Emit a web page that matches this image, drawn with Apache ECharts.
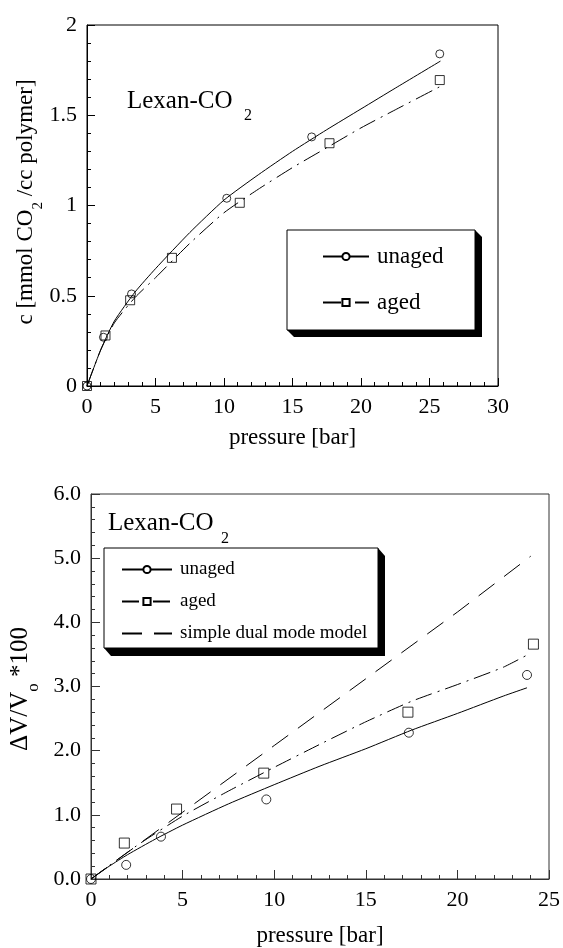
<!DOCTYPE html>
<html>
<head>
<meta charset="utf-8">
<script src="https://cdn.jsdelivr.net/npm/echarts@6/dist/echarts.min.js"></script>
<style>
  html, body { margin: 0; padding: 0; background: #fff; }
  #chart { width: 563px; height: 948px; }
</style>
</head>
<body>
<div id="chart"></div>
<script>
// top panel: sorption, c [mmol CO2/cc polymer] vs pressure [bar]
const topUnagedP = [0, 1.2, 3.25, 10.2, 16.4, 25.75];
const topUnagedC = [0, 0.27, 0.51, 1.04, 1.38, 1.84];
const topAgedP = [0, 1.35, 3.15, 6.2, 11.15, 17.7, 25.75];
const topAgedC = [0, 0.28, 0.475, 0.71, 1.015, 1.345, 1.695];
const topFitP = [0, 1, 2, 3.5, 5, 7.5, 10, 12.5, 15, 17.5, 20, 22.5, 25.8];
const topUnagedFit = [0, 0.2, 0.36, 0.52, 0.65, 0.85, 1.03, 1.17, 1.3, 1.42, 1.535, 1.65, 1.8];
const topAgedFit = [0, 0.2, 0.35, 0.49, 0.6, 0.79, 0.96, 1.09, 1.21, 1.32, 1.43, 1.53, 1.66];

// bottom panel: dilation, dV/Vo*100 vs pressure [bar]
const botUnagedP = [0, 1.92, 3.82, 9.57, 17.35, 23.8];
const botUnagedV = [0, 0.22, 0.66, 1.24, 2.28, 3.18];
const botAgedP = [0, 1.82, 4.67, 9.43, 17.3, 24.15];
const botAgedV = [0, 0.56, 1.09, 1.65, 2.6, 3.66];
const botUnagedFitP = [0, 1, 2, 3.5, 5, 7.5, 10, 12.5, 15, 17.5, 20, 22.5, 23.8];
const botUnagedFit = [0, 0.2, 0.38, 0.62, 0.84, 1.17, 1.47, 1.76, 2.03, 2.32, 2.58, 2.85, 2.98];
const botAgedFitP = [0, 2.5, 5, 7.5, 10, 12.5, 15, 17.5, 20, 22.5, 24];
const botAgedFit = [0, 0.52, 0.98, 1.37, 1.74, 2.1, 2.45, 2.77, 3.03, 3.3, 3.52];
const botModelP = [0, 5, 10, 15, 20, 24];
const botModel = [0, 1.04, 2.08, 3.12, 4.16, 5.03];

const font = "'Liberation Serif', 'Times New Roman', serif";
const pairs = (xs, ys) => xs.map((x, i) => [x, ys[i]]);

// one x and one y axis per grid; the grid border draws the top/right frame
function axis(grid, max, interval, pos, opts) {
  const c = opts.color;
  return {
    type: 'value', gridIndex: grid, min: 0, max: max, interval: interval, position: pos,
    axisLine: { show: true, onZero: false, lineStyle: { color: c, width: 1 } },
    axisTick: { show: true, inside: true, length: opts.len || 8, lineStyle: { color: c, width: 1 } },
    minorTick: { show: true, splitNumber: 5, length: 4, lineStyle: { color: c, width: 1 } },
    splitLine: { show: false },
    axisLabel: { show: true, fontFamily: font, fontSize: 22, color: '#000', margin: 10, formatter: opts.fmt }
  };
}

function legendBox(x, y, w, h, dx, dy) {
  return [
    { type: 'polygon', z: 3, silent: true,
      shape: { points: [[x + w, y], [x + w + dx, y + dy], [x + w + dx, y + h + dy], [x + dx, y + h + dy], [x, y + h]] },
      style: { fill: '#000' } },
    { type: 'rect', z: 3, silent: true, shape: { x: x, y: y, width: w, height: h },
      style: { fill: '#fff', stroke: '#000', lineWidth: 1 } }
  ];
}

const nameStyle = { fontFamily: font, fontSize: 23, color: '#000' };
const myChart = echarts.init(document.getElementById('chart'));

const option = {
  animation: false,
  backgroundColor: '#fff',
  grid: [
    { left: 87, top: 25, width: 411, height: 361, show: true, borderColor: '#000', borderWidth: 1, backgroundColor: 'transparent' },
    { left: 91, top: 494, width: 458, height: 386, show: true, borderColor: '#333', borderWidth: 1, backgroundColor: 'transparent' }
  ],
  xAxis: [
    Object.assign(axis(0, 30, 5, 'bottom', { color: '#000' }),
      { name: 'pressure [bar]', nameLocation: 'middle', nameGap: 40, nameTextStyle: nameStyle }),
    Object.assign(axis(1, 25, 5, 'bottom', { color: '#333', len: 9 }),
      { name: 'pressure [bar]', nameLocation: 'middle', nameGap: 45, nameTextStyle: nameStyle })
  ],
  yAxis: [
    axis(0, 2, 0.5, 'left', { color: '#000' }),
    axis(1, 6, 1, 'left', { color: '#333', len: 9, fmt: v => v.toFixed(1) })
  ],
  legend: [
    {
      data: ['unaged', 'aged'], orient: 'vertical', left: 287, top: 230, z: 4,
      selectedMode: false, itemWidth: 46, itemHeight: 9, itemGap: 23,
      padding: [15, 31, 17, 35],
      textStyle: { fontFamily: font, fontSize: 23, color: '#000', padding: [0, 0, 0, 3] }
    },
    {
      data: ['unaged ', 'aged ', 'simple dual mode model'], orient: 'vertical', left: 104, top: 548, z: 4,
      selectedMode: false, itemWidth: 50, itemHeight: 9, itemGap: 13,
      padding: [12, 6, 8, 17],
      textStyle: { fontFamily: font, fontSize: 19, color: '#000', padding: [0, 0, 0, 3] }
    }
  ],
  series: [
    {
      name: 'unaged', type: 'line', xAxisIndex: 0, yAxisIndex: 0, smooth: 0.2,
      data: pairs(topFitP, topUnagedFit), symbol: 'circle', showSymbol: false, symbolSize: 7,
      lineStyle: { color: '#000', width: 1 },
      itemStyle: { color: '#fff', borderColor: '#000', borderWidth: 1 }
    },
    {
      name: 'aged', type: 'line', xAxisIndex: 0, yAxisIndex: 0, smooth: 0.2,
      data: pairs(topFitP, topAgedFit), symbol: 'rect', showSymbol: false, symbolSize: 7,
      lineStyle: { color: '#000', width: 1, type: [18, 6, 2, 6] },
      itemStyle: { color: '#fff', borderColor: '#000', borderWidth: 1 }
    },
    {
      type: 'scatter', xAxisIndex: 0, yAxisIndex: 0, symbol: 'circle', symbolSize: 8,
      data: pairs(topUnagedP, topUnagedC),
      itemStyle: { color: 'rgba(0,0,0,0)', borderColor: '#000', borderWidth: 1 }
    },
    {
      type: 'scatter', xAxisIndex: 0, yAxisIndex: 0, symbol: 'rect', symbolSize: 9,
      data: pairs(topAgedP, topAgedC),
      itemStyle: { color: 'rgba(0,0,0,0)', borderColor: '#000', borderWidth: 1 }
    },
    {
      name: 'unaged ', type: 'line', xAxisIndex: 1, yAxisIndex: 1, smooth: 0.2,
      data: pairs(botUnagedFitP, botUnagedFit), symbol: 'circle', showSymbol: false, symbolSize: 7,
      lineStyle: { color: '#000', width: 1 },
      itemStyle: { color: '#fff', borderColor: '#000', borderWidth: 1 }
    },
    {
      name: 'aged ', type: 'line', xAxisIndex: 1, yAxisIndex: 1, smooth: 0.2,
      data: pairs(botAgedFitP, botAgedFit), symbol: 'rect', showSymbol: false, symbolSize: 7,
      lineStyle: { color: '#000', width: 1, type: [17, 6, 2, 6] },
      itemStyle: { color: '#fff', borderColor: '#000', borderWidth: 1 }
    },
    {
      name: 'simple dual mode model', type: 'line', xAxisIndex: 1, yAxisIndex: 1,
      data: pairs(botModelP, botModel), symbol: 'circle', showSymbol: false,
      lineStyle: { color: '#000', width: 1, type: [20, 12] },
      itemStyle: { opacity: 0 }
    },
    {
      type: 'scatter', xAxisIndex: 1, yAxisIndex: 1, symbol: 'circle', symbolSize: 9,
      data: pairs(botUnagedP, botUnagedV),
      itemStyle: { color: 'rgba(0,0,0,0)', borderColor: '#000', borderWidth: 1 }
    },
    {
      type: 'scatter', xAxisIndex: 1, yAxisIndex: 1, symbol: 'rect', symbolSize: 10,
      data: pairs(botAgedP, botAgedV),
      itemStyle: { color: 'rgba(0,0,0,0)', borderColor: '#000', borderWidth: 1 }
    }
  ],
  graphic: [
    ...legendBox(287, 230, 188, 100, 7, 7),
    ...legendBox(104, 548, 274, 100, 7, 8),
    { type: 'text', left: 127, top: 89, style: { text: 'Lexan-CO', font: '25px ' + font, fill: '#000' } },
    { type: 'text', left: 244, top: 108, style: { text: '2', font: '16px ' + font, fill: '#000' } },
    { type: 'text', left: 108, top: 511, style: { text: 'Lexan-CO', font: '25px ' + font, fill: '#000' } },
    { type: 'text', left: 221, top: 531, style: { text: '2', font: '16px ' + font, fill: '#000' } },
    {
      type: 'text', x: 30, y: 202, rotation: Math.PI / 2,
      style: {
        text: '{a|c [mmol CO}{s|2}{a| /cc polymer]}', align: 'center', verticalAlign: 'middle',
        rich: {
          a: { fontFamily: font, fontSize: 23, lineHeight: 26, verticalAlign: 'top', fill: '#000' },
          s: { fontFamily: font, fontSize: 15, lineHeight: 32, verticalAlign: 'bottom', fill: '#000' }
        }
      }
    },
    {
      type: 'text', x: 25, y: 689, rotation: Math.PI / 2,
      style: {
        text: '{a|\u0394V/V}{s|o}{a| *100}', align: 'center', verticalAlign: 'middle',
        rich: {
          a: { fontFamily: font, fontSize: 25, lineHeight: 28, verticalAlign: 'top', fill: '#000' },
          s: { fontFamily: font, fontSize: 17, lineHeight: 34, verticalAlign: 'bottom', fill: '#000' }
        }
      }
    }
  ]
};

myChart.setOption(option);
</script>
</body>
</html>
